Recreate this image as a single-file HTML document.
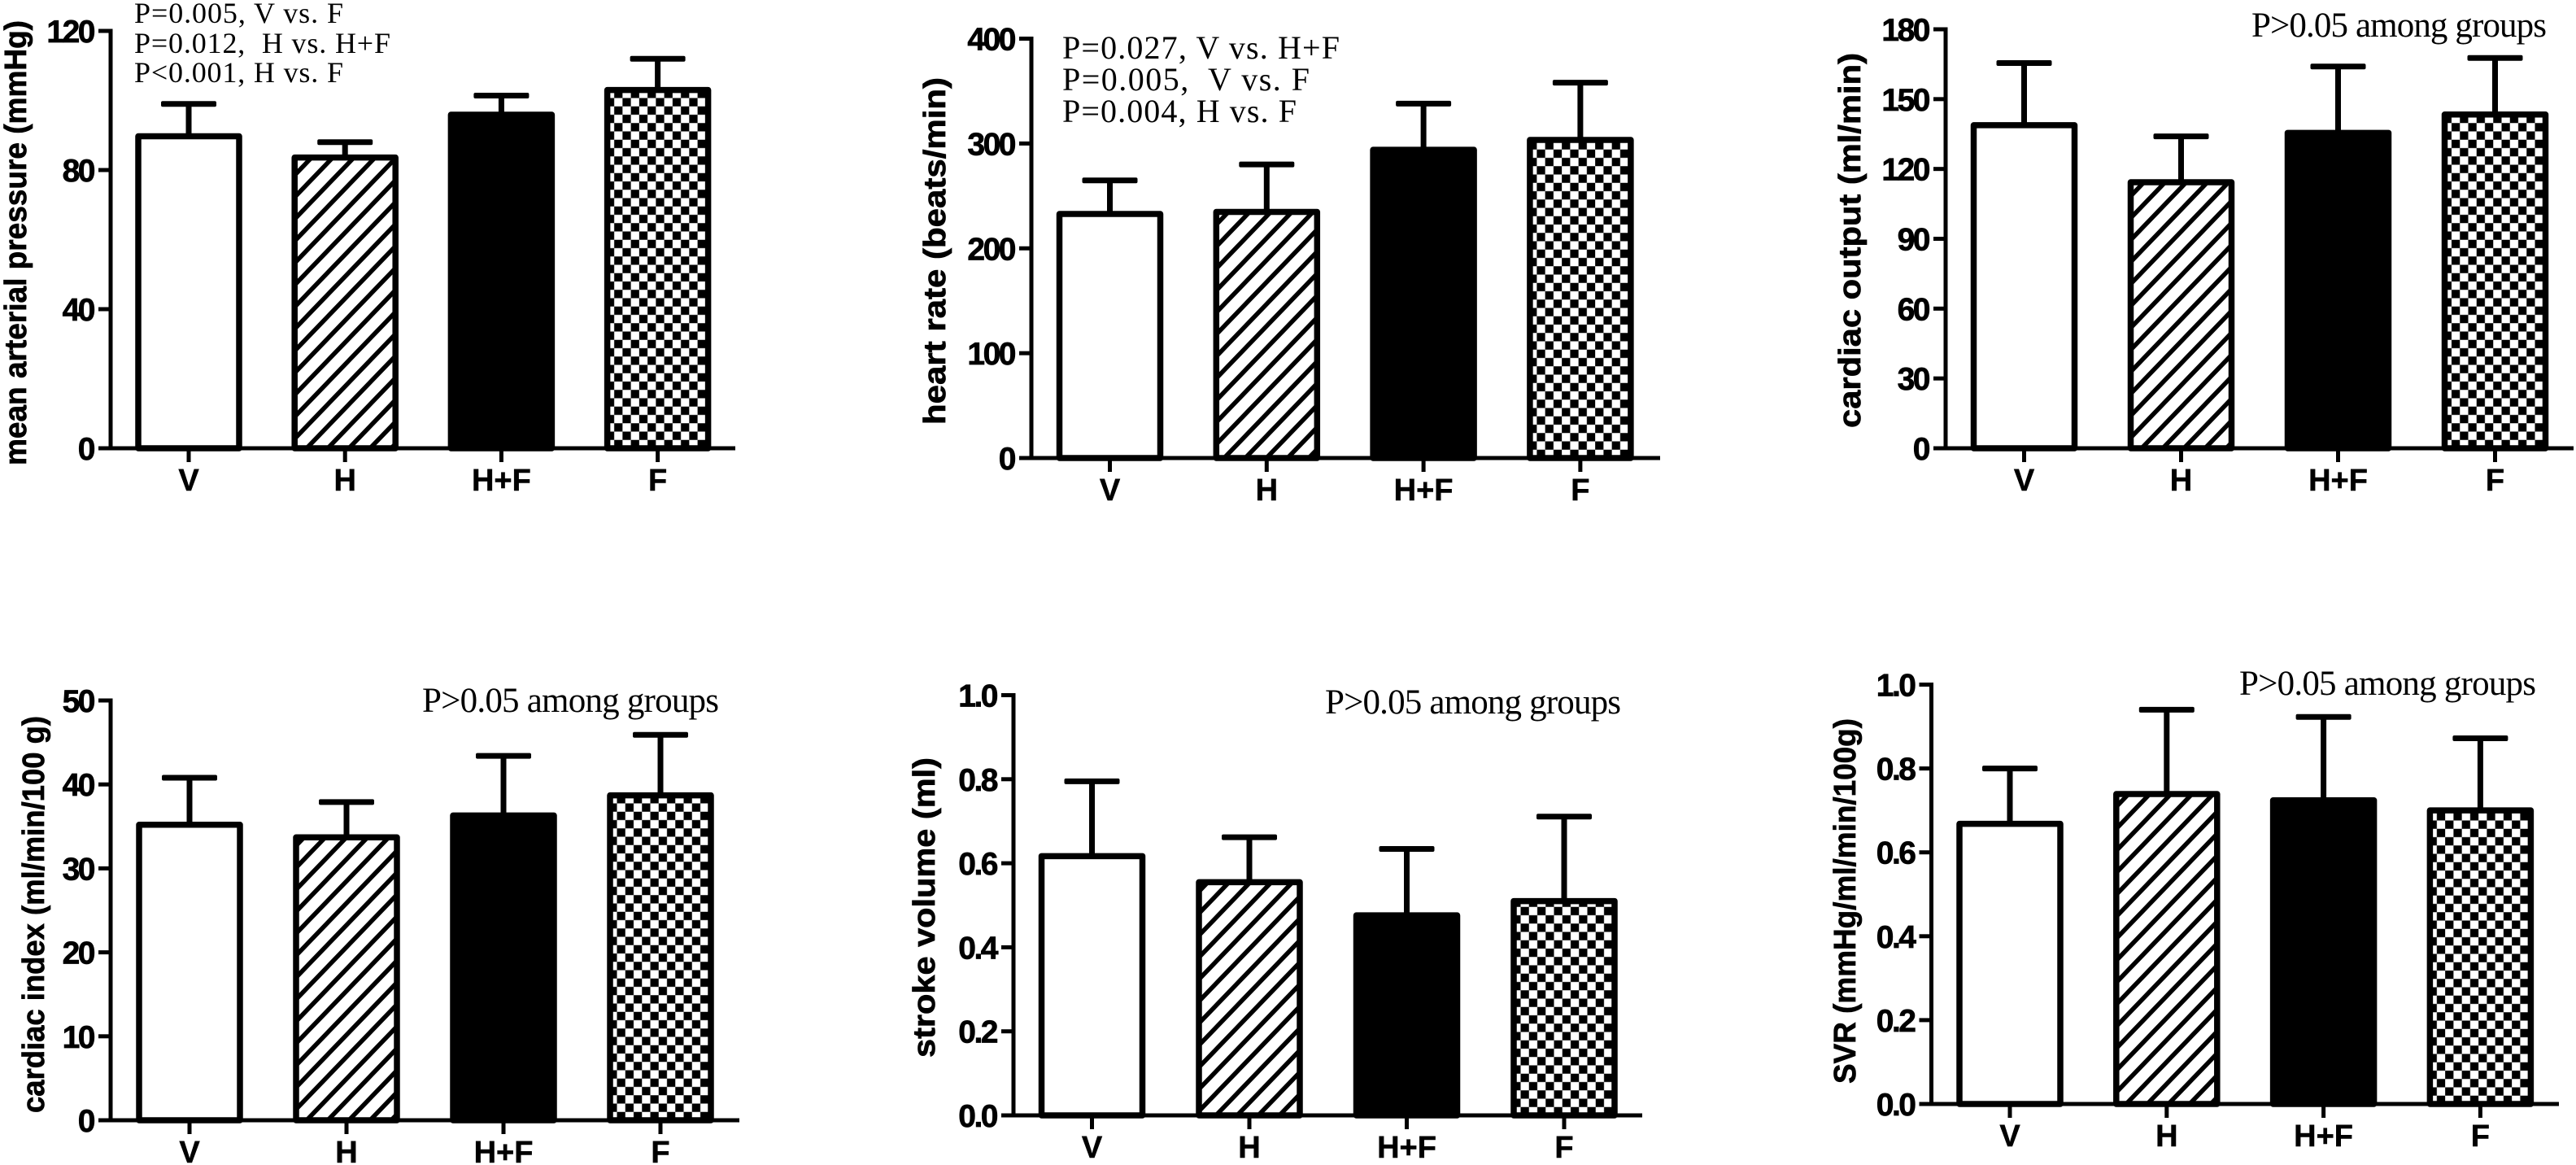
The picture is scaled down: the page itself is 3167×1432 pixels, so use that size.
<!DOCTYPE html>
<html lang="en">
<head>
<meta charset="utf-8">
<title>Hemodynamic parameters by group</title>
<style>
html,body{margin:0;padding:0;background:#fff;}
svg{display:block;}
.title{font-family:"Liberation Sans",Arial,sans-serif;font-weight:bold;font-size:38px;fill:#000;stroke:#000;stroke-width:.7px;}
.tick{font-family:"Liberation Sans",Arial,sans-serif;font-weight:bold;font-size:39px;letter-spacing:-2.5px;fill:#000;stroke:#000;stroke-width:.7px;}
.cat{font-family:"Liberation Sans",Arial,sans-serif;font-weight:bold;font-size:38px;fill:#000;stroke:#000;stroke-width:.5px;}
.note{font-family:"Liberation Serif","Times New Roman",serif;fill:#000;}
</style>
</head>
<body>
<svg id="figure" xmlns="http://www.w3.org/2000/svg" width="3167" height="1432" viewBox="0 0 3167 1432">
  <rect x="0" y="0" width="3167" height="1432" fill="#fff"/>
  <defs id="defs"></defs>

  <g id="panel-map">
    <text class="title" transform="translate(32,572) rotate(-90)" textLength="547" lengthAdjust="spacingAndGlyphs">mean arterial pressure (mmHg)</text>
    <text class="note" font-size="36" x="165" y="28" textLength="257" xml:space="preserve">P=0.005, V vs. F</text>
    <text class="note" font-size="36" x="165" y="65" textLength="315" xml:space="preserve">P=0.012,  H vs. H+F</text>
    <text class="note" font-size="36" x="165" y="101" textLength="257" xml:space="preserve">P&lt;0.001, H vs. F</text>
  </g>

  <g id="panel-hr">
    <text class="title" transform="translate(1162,522) rotate(-90)" textLength="427" lengthAdjust="spacingAndGlyphs">heart rate (beats/min)</text>
    <text class="note" font-size="40" x="1306" y="72" textLength="341" xml:space="preserve">P=0.027, V vs. H+F</text>
    <text class="note" font-size="40" x="1306" y="111" textLength="304" xml:space="preserve">P=0.005,  V vs. F</text>
    <text class="note" font-size="40" x="1306" y="150" textLength="288" xml:space="preserve">P=0.004, H vs. F</text>
  </g>

  <g id="panel-co">
    <text class="title" transform="translate(2287,526) rotate(-90)" textLength="461" lengthAdjust="spacingAndGlyphs">cardiac output (ml/min)</text>
    <text class="note" font-size="43" x="2768" y="45" textLength="363">P&gt;0.05 among groups</text>
  </g>

  <g id="panel-ci">
    <text class="title" transform="translate(54,1368) rotate(-90)" textLength="488" lengthAdjust="spacingAndGlyphs">cardiac index (ml/min/100 g)</text>
    <text class="note" font-size="43" x="519" y="875" textLength="365">P&gt;0.05 among groups</text>
  </g>

  <g id="panel-sv">
    <text class="title" transform="translate(1149,1300) rotate(-90)" textLength="369" lengthAdjust="spacingAndGlyphs">stroke volume (ml)</text>
    <text class="note" font-size="43" x="1629" y="877" textLength="364">P&gt;0.05 among groups</text>
  </g>

  <g id="panel-svr">
    <text class="title" transform="translate(2281,1332) rotate(-90)" textLength="449" lengthAdjust="spacingAndGlyphs">SVR (mmHg/ml/min/100g)</text>
    <text class="note" font-size="43" x="2753" y="854" textLength="365">P&gt;0.05 among groups</text>
  </g>
</svg>

<script>
const categories = ['V', 'H', 'H+F', 'F'];

const mapMeans = [89.7, 83.6, 95.9, 103];
const mapUpper = [99, 88, 101.4, 112];
const mapTicks = [0, 40, 80, 120];
const mapTickLabels = ['0', '40', '80', '120'];

const hrMeans = [232.8, 234.7, 294, 303.4];
const hrUpper = [264.8, 280, 338, 358];
const hrTicks = [0, 100, 200, 300, 400];
const hrTickLabels = ['0', '100', '200', '300', '400'];

const coMeans = [138.8, 114.3, 135.5, 143.4];
const coUpper = [165.5, 134, 164, 167.7];
const coTicks = [0, 30, 60, 90, 120, 150, 180];
const coTickLabels = ['0', '30', '60', '90', '120', '150', '180'];

const ciMeans = [35.2, 33.7, 36.3, 38.7];
const ciUpper = [40.8, 37.9, 43.4, 45.9];
const ciTicks = [0, 10, 20, 30, 40, 50];
const ciTickLabels = ['0', '10', '20', '30', '40', '50'];

const svMeans = [0.617, 0.555, 0.476, 0.51];
const svUpper = [0.795, 0.662, 0.634, 0.711];
const svTicks = [0, 0.2, 0.4, 0.6, 0.8, 1.0];
const svTickLabels = ['0.0', '0.2', '0.4', '0.6', '0.8', '1.0'];

const svrMeans = [0.668, 0.739, 0.724, 0.70];
const svrUpper = [0.80, 0.94, 0.923, 0.872];
const svrTicks = [0, 0.2, 0.4, 0.6, 0.8, 1.0];
const svrTickLabels = ['0.0', '0.2', '0.4', '0.6', '0.8', '1.0'];

const panels = [
  {id: 'map', means: mapMeans, upper: mapUpper, ticks: mapTicks, labels: mapTickLabels,
   axisX: 136, zeroY: 551, topY: 38, xEnd: 904, firstX: 232, pitch: 192.2, hatchX: 377},
  {id: 'hr', means: hrMeans, upper: hrUpper, ticks: hrTicks, labels: hrTickLabels,
   axisX: 1268, zeroY: 563, topY: 47.5, xEnd: 2041, firstX: 1364.5, pitch: 192.8, hatchX: 1505},
  {id: 'co', means: coMeans, upper: coUpper, ticks: coTicks, labels: coTickLabels,
   axisX: 2392, zeroY: 551, topY: 36, xEnd: 3164, firstX: 2488.5, pitch: 193, hatchX: 2633},
  {id: 'ci', means: ciMeans, upper: ciUpper, ticks: ciTicks, labels: ciTickLabels,
   axisX: 136, zeroY: 1377, topY: 861, xEnd: 909, firstX: 233, pitch: 193, hatchX: 377},
  {id: 'sv', means: svMeans, upper: svUpper, ticks: svTicks, labels: svTickLabels,
   axisX: 1246, zeroY: 1371, topY: 854.5, xEnd: 2019, firstX: 1342.5, pitch: 193.5, hatchX: 1495},
  {id: 'svr', means: svrMeans, upper: svrUpper, ticks: svrTicks, labels: svrTickLabels,
   axisX: 2374.5, zeroY: 1357, topY: 841.5, xEnd: 3146, firstX: 2471, pitch: 192.8, hatchX: 2614}
];

const SVG_NS = 'http://www.w3.org/2000/svg';
const BAR_W = 124;
const STROKE = 7.5;
const AXIS_W = 5;
const TICK_LEN = 15;
const CAP_W = 68;
const HATCH_W = 26;
const HATCH_H = 27;
const CELL = 10.25;

function addNode(tag, parent, geometry) {
  const node = document.createElementNS(SVG_NS, tag);
  Object.keys(geometry).forEach(function (k) { node.setAttribute(k, geometry[k]); });
  parent.appendChild(node);
  return node;
}

function makePatterns(p, hatchId, checkId, checkX) {
  const defs = document.getElementById('defs');
  const hatch = addNode('pattern', defs, {id: hatchId, patternUnits: 'userSpaceOnUse', width: HATCH_W, height: HATCH_H,
    patternTransform: 'translate(' + p.hatchX + ',' + (p.zeroY - HATCH_H) + ')'});
  addNode('rect', hatch, {x: 0, y: 0, width: HATCH_W, height: HATCH_H, fill: '#fff'});
  addNode('path', hatch, {d: 'M-6.5,6.75L6.5,-6.75M-6.5,33.75L32.5,-6.75M19.5,33.75L32.5,20.25', stroke: '#000', 'stroke-width': 5.5, fill: 'none'});
  const check = addNode('pattern', defs, {id: checkId, patternUnits: 'userSpaceOnUse', width: CELL * 2, height: CELL * 2,
    patternTransform: 'translate(' + checkX + ',' + (p.zeroY - CELL) + ')'});
  addNode('rect', check, {x: 0, y: 0, width: CELL * 2, height: CELL * 2, fill: '#000'});
  addNode('rect', check, {x: 0, y: 0, width: CELL, height: CELL, fill: '#fff'});
  addNode('rect', check, {x: CELL, y: CELL, width: CELL, height: CELL, fill: '#fff'});
}

function drawPanel(p) {
  const group = document.getElementById('panel-' + p.id);
  const maxTick = p.ticks[p.ticks.length - 1];
  const yScale = function (v) { return p.zeroY - (v / maxTick) * (p.zeroY - p.topY); };
  const xScale = function (i) { return p.firstX + i * p.pitch; };
  const hatchId = 'hatch-' + p.id;
  const checkId = 'check-' + p.id;
  makePatterns(p, hatchId, checkId, xScale(3) - BAR_W / 2 - STROKE / 2 + 2);
  const fills = ['#fff', 'url(#' + hatchId + ')', '#000', 'url(#' + checkId + ')'];

  categories.forEach(function (cat, i) {
    const cx = xScale(i);
    const yMean = yScale(p.means[i]);
    const yUp = yScale(p.upper[i]);

    const stem = addNode('line', group, {x1: cx, x2: cx, y1: yMean, y2: yUp, stroke: '#000', 'stroke-width': 7});
    
    

    const cap = addNode('rect', group, {x: cx - CAP_W / 2, y: yUp - 3.5, width: CAP_W, height: 7, rx: 2, fill: '#000'});
    
    

    const bar = addNode('rect', group, {x: cx - BAR_W / 2, y: yMean, width: BAR_W, height: p.zeroY - yMean,
      fill: fills[i], stroke: '#000', 'stroke-width': STROKE, 'stroke-linejoin': 'round'});
    
    

    const xTick = addNode('line', group, {x1: cx, x2: cx, y1: p.zeroY, y2: p.zeroY + TICK_LEN + 2, stroke: '#000', 'stroke-width': AXIS_W});
    
    

    const label = addNode('text', group, {x: cx, y: p.zeroY + 52, 'text-anchor': 'middle', 'class': 'cat'});
    label.textContent = cat;
    
    
  });

  const xAxis = addNode('line', group, {x1: p.axisX - TICK_LEN, x2: p.xEnd, y1: p.zeroY, y2: p.zeroY, stroke: '#000', 'stroke-width': AXIS_W});
  
  

  const yAxis = addNode('line', group, {x1: p.axisX, x2: p.axisX, y1: p.zeroY, y2: p.topY - AXIS_W / 2, stroke: '#000', 'stroke-width': AXIS_W});
  
  

  p.ticks.forEach(function (t, i) {
    const y = yScale(t);
    const tick = addNode('line', group, {x1: p.axisX - TICK_LEN, x2: p.axisX, y1: y, y2: y, stroke: '#000', 'stroke-width': AXIS_W});
    
    

    const label = addNode('text', group, {x: p.axisX - TICK_LEN - 6, y: y + 14, 'text-anchor': 'end', 'class': 'tick'});
    label.textContent = p.labels[i];
    
    
  });
}

panels.forEach(drawPanel);
</script>
</body>
</html>
